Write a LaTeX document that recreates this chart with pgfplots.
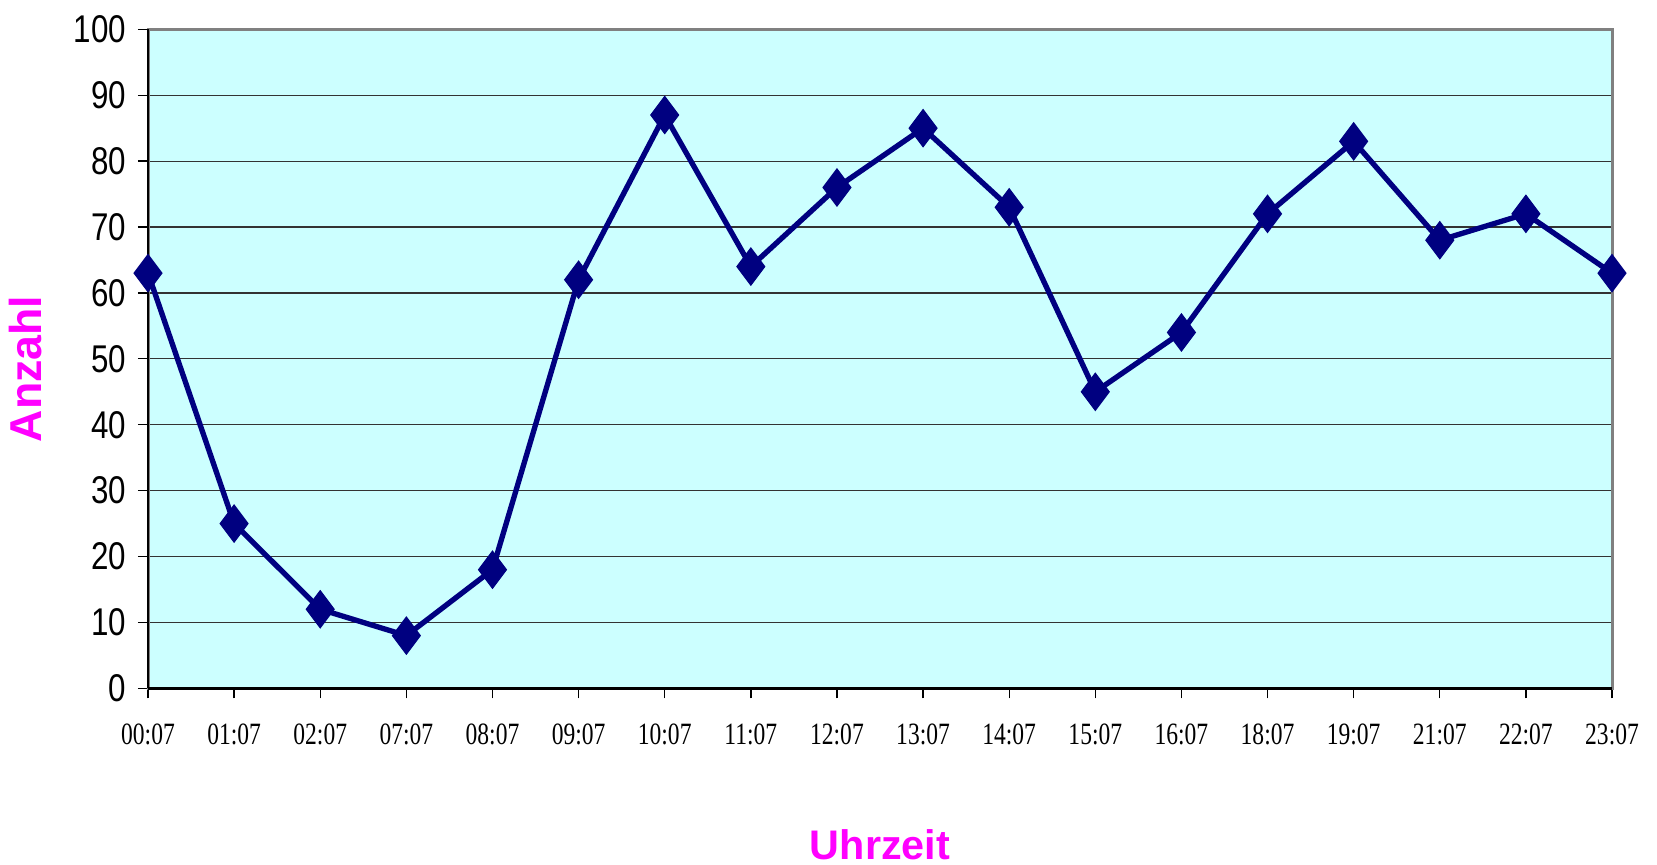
\documentclass[border=0pt]{standalone}
\usepackage{pgfplots}
\pgfplotsset{compat=1.18}
\usepackage{fontspec}
\setmainfont{Liberation Sans}
\newfontfamily\ytfont[FakeStretch=0.81]{Liberation Sans}
\newfontfamily\xtfont[FakeStretch=0.76]{Liberation Serif}
\definecolor{bgcyan}{HTML}{CCFFFF}
\definecolor{navyline}{HTML}{000080}
\definecolor{labmag}{HTML}{FF00FF}
\begin{document}
\begin{tikzpicture}
\begin{axis}[
  name=ax,
  scale only axis,
  width=439.2pt, height=197.7pt,
  xmin=0, xmax=17, ymin=0, ymax=100,
  xtick={0,...,17},
  xticklabels={00:07,01:07,02:07,07:07,08:07,09:07,10:07,11:07,12:07,13:07,14:07,15:07,16:07,18:07,19:07,21:07,22:07,23:07},
  ytick={0,10,...,100},
  tick align=outside,
  tick pos=left,
  major tick length=3pt,
  tick style={black, line width=0.4pt},
  ymajorgrids,
  grid style={black!80, line width=0.35pt},
  axis background/.style={fill=bgcyan},
  axis line style={draw=gray, line width=0.9pt},
  /pgf/number format/assume math mode=true,
  yticklabel style={font=\ytfont\fontsize{11.6}{12}\selectfont},
  xticklabel style={font=\xtfont\fontsize{9.3}{10}\selectfont, yshift=-4pt},
  every axis x label/.style={at={(rel axis cs:0.5,0)}, anchor=center, yshift=-47pt,
    font=\bfseries\fontsize{12.4}{14}\selectfont},
  every axis y label/.style={at={(rel axis cs:0,0.5)}, anchor=center, xshift=-36.6pt, yshift=-3pt, rotate=90,
    font=\bfseries\fontsize{13.4}{15}\selectfont},
  xlabel={Uhrzeit},
  ylabel={Anzahl},
  label style={text=labmag},
  clip=false,
]
  \draw[black, line width=0.7pt] (rel axis cs:0,1) -- (rel axis cs:0,0);
  \draw[black, line width=1.1pt] (rel axis cs:0,0) -- (rel axis cs:1,0);
  \addplot[navyline, line width=1.6pt, mark=diamond*, mark size=5.6pt,
    mark options={fill=navyline, draw=navyline, line width=0.3pt}]
    coordinates {
    (0,63) (1,25) (2,12) (3,8) (4,18) (5,62) (6,87) (7,64) (8,76)
    (9,85) (10,73) (11,45) (12,54) (13,72) (14,83) (15,68) (16,72) (17,63)
  };
\end{axis}
\pgfresetboundingbox
\path ([shift={(-44.4pt,-52.8pt)}]ax.south west) rectangle ([shift={(13.5pt,8.8pt)}]ax.north east);
\end{tikzpicture}
\end{document}
